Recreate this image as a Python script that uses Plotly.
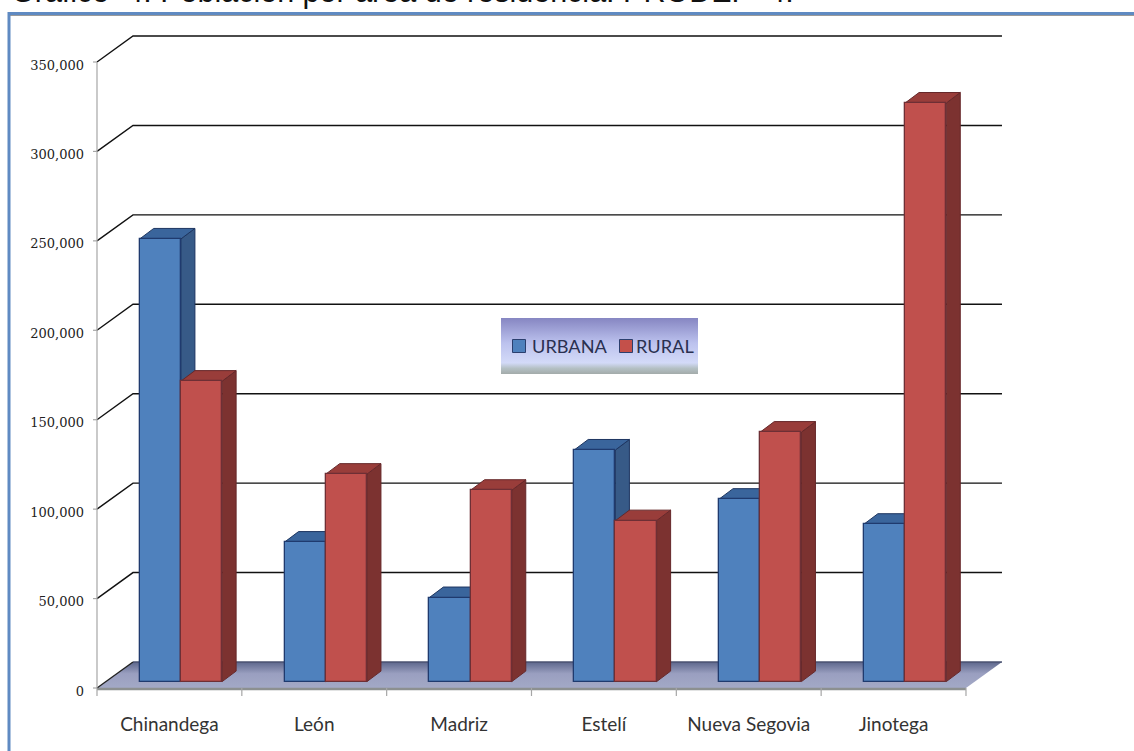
import plotly.graph_objects as go

categories = ["Chinandega", "León", "Madriz", "Estelí", "Nueva Segovia", "Jinotega"]
urbana = [247500, 78000, 47000, 129500, 102000, 88000]
rural = [168000, 116000, 107000, 90000, 139500, 323500]
y_ticks = [0, 50000, 100000, 150000, 200000, 250000, 300000, 350000]
legend_labels = ["URBANA", "RURAL"]
title = "Gráfico  4. Población por área de residencia. PRODEP  4."

W, H = 1134, 751
L, R, T, B = 92, 132, 34, 45
X0, Y0 = 97, 688
PW, PH = W - L - R, H - T - B
CAT_PX = 144.83
Y_PX = 626 / 350000
DX = 36 / CAT_PX
DY = 26 / Y_PX
XMAX = 6 + DX
X_RANGE = [(L - X0) / CAT_PX, (W - R - X0) / CAT_PX]
Y_RANGE = [(Y0 - (H - B)) / Y_PX, (Y0 - T) / Y_PX]
BAR_W = 41.2 / CAT_PX
BAR_SHIFT = 11.5 / CAT_PX
BASE = 6.4 / Y_PX
SX = 14 / CAT_PX
SY = 10.5 / Y_PX
n = len(categories)


def px(x):
    return (x - L) / PW


def py(y):
    return (H - B - y) / PH


def dx(x):
    return (x - X0) / CAT_PX


def dy(y):
    return (Y0 - y) / Y_PX


def poly(points):
    xs, ys = [], []
    for group in points:
        xs += [p[0] for p in group] + [group[0][0], None]
        ys += [p[1] for p in group] + [group[0][1], None]
    return xs, ys


def bar_faces(values, side):
    tops, sides = [], []
    for i, v in enumerate(values):
        c = i + 0.5 + BAR_SHIFT + side * BAR_W / 2
        x0, x1 = c - BAR_W / 2, c + BAR_W / 2
        t = v + BASE
        tops.append([(x0, t), (x1, t), (x1 + SX, t + SY), (x0 + SX, t + SY)])
        sides.append([(x1, BASE), (x1, t), (x1 + SX, t + SY), (x1 + SX, BASE + SY)])
    return tops, sides


fig = go.Figure()


def line(xs, ys, color, width):
    fig.add_trace(go.Scatter(x=xs, y=ys, mode="lines", line=dict(color=color, width=width),
                             showlegend=False, hoverinfo="skip"))


# floor
fx, fy = poly([[(0, 0), (DX, DY), (XMAX, DY), (6, 0)]])
fig.add_trace(go.Scatter(
    x=fx, y=fy, mode="lines", fill="toself", line=dict(color="rgba(0,0,0,0)", width=0),
    fillgradient=dict(type="vertical", colorscale=[[0, "#a3a9c6"], [0.55, "#9a9fc0"], [1, "#5d678c"]]),
    showlegend=False, hoverinfo="skip"))
line([DX, XMAX], [DY, DY], "#4a5270", 1.5)
line([0, 6], [-1 / Y_PX, -1 / Y_PX], "#8c9090", 2.5)

# walls
gx, gy = [], []
for v in y_ticks[1:]:
    gx += [0, DX, XMAX, None]
    gy += [v, v + DY, v + DY, None]
line(gx, gy, "#111111", 1.4)
line([0, DX], [0, DY], "#222222", 1.4)
line([0, 0], [0, 350000], "#a6a6a6", 1.2)

# axis tick marks
tx, ty = [], []
for i in range(n + 1):
    tx += [i, i, None]
    ty += [0, -8 / Y_PX, None]
for v in y_ticks:
    tx += [-4 / CAT_PX, 0, None]
    ty += [v, v, None]
line(tx, ty, "#a6a6a6", 1.2)

# legend backing
lx, ly = poly([[(dx(501), dy(318)), (dx(698), dy(318)), (dx(698), dy(374)), (dx(501), dy(374))]])
fig.add_trace(go.Scatter(
    x=lx, y=ly, mode="lines", fill="toself", line=dict(color="rgba(0,0,0,0)", width=0),
    fillgradient=dict(type="vertical", colorscale=[
        [0, "#a3abaa"], [0.1, "#b4c0c4"], [0.2, "#d3daf8"], [0.55, "#bcc2ee"], [1, "#8686c2"]]),
    showlegend=False, hoverinfo="skip"))

# depth faces
for values, side, top_c, side_c, edge in [
    (urbana, -1, "#3a659c", "#375a87", "#1d3560"),
    (rural, 1, "#993d3a", "#7c3230", "#66282a"),
]:
    tops, sides = bar_faces(values, side)
    for group, col in [(sides, side_c), (tops, top_c)]:
        xs, ys = poly(group)
        fig.add_trace(go.Scatter(x=xs, y=ys, mode="lines", fill="toself", fillcolor=col,
                                 line=dict(color=edge, width=1), showlegend=False, hoverinfo="skip"))

# fronts
centers = [i + 0.5 + BAR_SHIFT for i in range(n)]
fig.add_trace(go.Bar(x=[c - BAR_W / 2 for c in centers], y=urbana, base=BASE, width=BAR_W, name=legend_labels[0],
                     marker=dict(color="#4f81bd", line=dict(color="#1f3a6e", width=1.3)),
                     xaxis="x2", yaxis="y2", showlegend=False))
fig.add_trace(go.Bar(x=[c + BAR_W / 2 for c in centers], y=rural, base=BASE, width=BAR_W, name=legend_labels[1],
                     marker=dict(color="#c0504d", line=dict(color="#6e2f35", width=1.3)),
                     xaxis="x2", yaxis="y2", showlegend=False))

# legend keys and labels
legend_colors = ["#4f81bd", "#c4504a"]
legend_key_px = [519, 626]
legend_text_px = [531, 635]
fig.add_trace(go.Scatter(
    x=[dx(p) for p in legend_key_px], y=[dy(346)] * 2, mode="markers",
    marker=dict(symbol="square", size=13, color=legend_colors, line=dict(color="#2b3f6e", width=1)),
    showlegend=False, hoverinfo="skip"))
for label, p in zip(legend_labels, legend_text_px):
    fig.add_annotation(text=label, x=dx(p), y=dy(345.5), xanchor="left", yanchor="middle", showarrow=False,
                       xref="x", yref="y", borderpad=0,
                       font=dict(family="Lato", size=18.2, color="#2a3050"))

# frame
frame = "#5f8ac2"
fig.add_shape(type="line", xref="paper", yref="paper", x0=px(9), x1=px(1140), y0=py(15.5), y1=py(15.5),
              line=dict(color="#9a9a9a", width=1))
fig.add_shape(type="line", xref="paper", yref="paper", x0=px(9), x1=px(1140), y0=py(13.5), y1=py(13.5),
              line=dict(color=frame, width=3))
fig.add_shape(type="line", xref="paper", yref="paper", x0=px(9), x1=px(9), y0=py(12), y1=py(760),
              line=dict(color=frame, width=3))

fig.add_annotation(text=title, xref="paper", yref="paper", x=px(10), y=py(10), xanchor="left", yanchor="bottom",
                   showarrow=False, font=dict(family="Liberation Sans", size=30.5, color="#111111"), borderpad=0)

fig.update_layout(
    width=W, height=H, autosize=False,
    margin=dict(l=L, r=R, t=T, b=B, pad=0, autoexpand=False),
    paper_bgcolor="white", plot_bgcolor="white",
    barmode="overlay", bargap=0,
    showlegend=False,
    xaxis=dict(range=X_RANGE, tickmode="array", tickvals=[i + 0.5 for i in range(n)], ticktext=categories,
               showgrid=False, zeroline=False, showline=False, ticks="outside", ticklen=1,
               tickcolor="rgba(0,0,0,0)", tickfont=dict(family="Lato", size=19, color="#333333")),
    yaxis=dict(range=Y_RANGE, tickmode="array", tickvals=y_ticks, tickformat=",d",
               showgrid=False, zeroline=False, showline=False, ticks="", ticklabelstandoff=7, ticklabelshift=3,
               tickfont=dict(family="DejaVu Serif", size=13, color="#222222")),
    xaxis2=dict(range=X_RANGE, overlaying="x", visible=False),
    yaxis2=dict(range=Y_RANGE, overlaying="y", visible=False),
)

fig.write_html("out.html", config={"displayModeBar": False},
               post_script="document.body.style.margin='0';document.body.style.overflow='hidden';")
